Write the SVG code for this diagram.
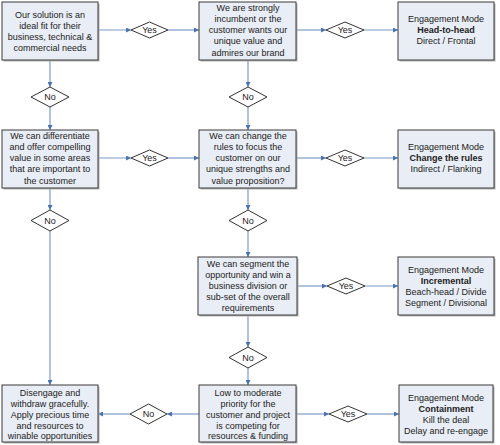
<svg xmlns="http://www.w3.org/2000/svg" width="500" height="445" viewBox="0 0 500 445">
<style>
  .box { fill: #e9edf5; stroke: #3a3a3a; stroke-width: 1; }
  .shadow { fill: #b4b4b4; }
  .dia { fill: #ffffff; stroke: #333333; stroke-width: 1; }
  .t { font-family: "Liberation Sans", Arial, sans-serif; font-size: 9px; fill: #222222; text-anchor: middle; }
  .b { font-weight: bold; }
  .c { stroke: #7b9aca; stroke-width: 1.2; fill: none; marker-end: url(#ah); }
</style>
<defs>
  <marker id="ah" viewBox="0 0 10 10" refX="10" refY="5" markerWidth="5" markerHeight="5" markerUnits="userSpaceOnUse" orient="auto">
    <path d="M0,0 L10,5 L0,10 z" fill="#4a72b0"/>
  </marker>
</defs>
<rect width="500" height="445" fill="#ffffff"/>

<g id="connectors">
  <line class="c" x1="98" y1="30" x2="131" y2="30"/>
  <line class="c" x1="168" y1="30" x2="199" y2="30"/>
  <line class="c" x1="297" y1="30" x2="326" y2="30"/>
  <line class="c" x1="364" y1="30" x2="398" y2="30"/>
  <line class="c" x1="50" y1="60" x2="50" y2="87"/>
  <line class="c" x1="50" y1="107" x2="50" y2="130"/>
  <line class="c" x1="248" y1="60" x2="248" y2="87"/>
  <line class="c" x1="248" y1="107" x2="248" y2="130"/>
  <line class="c" x1="98" y1="158" x2="131" y2="158"/>
  <line class="c" x1="168" y1="158" x2="199" y2="158"/>
  <line class="c" x1="297" y1="158" x2="326" y2="158"/>
  <line class="c" x1="364" y1="158" x2="398" y2="158"/>
  <line class="c" x1="50" y1="188" x2="50" y2="210"/>
  <line class="c" x1="50" y1="231" x2="50" y2="385"/>
  <line class="c" x1="248" y1="188" x2="248" y2="210"/>
  <line class="c" x1="248" y1="231" x2="248" y2="257"/>
  <line class="c" x1="298" y1="286" x2="327" y2="286"/>
  <line class="c" x1="365" y1="286" x2="398" y2="286"/>
  <line class="c" x1="248" y1="315" x2="248" y2="347"/>
  <line class="c" x1="248" y1="368" x2="248" y2="385"/>
  <line class="c" x1="199" y1="414" x2="167" y2="414"/>
  <line class="c" x1="130" y1="414" x2="98" y2="414"/>
  <line class="c" x1="297" y1="414" x2="329" y2="414"/>
  <line class="c" x1="367" y1="414" x2="399" y2="414"/>
</g>

<g id="n1">
  <rect class="shadow" x="3.5" y="3.5" width="96" height="58"/>
  <rect class="box" x="2" y="2" width="96" height="58"/>
  <text class="t" x="50" y="17.7">Our solution is an</text>
  <text class="t" x="50" y="28.7">ideal fit for their</text>
  <text class="t" x="50" y="39.7">business, technical &amp;</text>
  <text class="t" x="50" y="50.7">commercial needs</text>
</g>
<g id="n2">
  <rect class="shadow" x="200.5" y="3.5" width="97" height="58"/>
  <rect class="box" x="199" y="2" width="97" height="58"/>
  <text class="t" x="248" y="10.8">We are strongly</text>
  <text class="t" x="248" y="22">incumbent or the</text>
  <text class="t" x="248" y="33.2">customer wants our</text>
  <text class="t" x="248" y="44.4">unique value and</text>
  <text class="t" x="248" y="55.6">admires our brand</text>
</g>
<g id="n3">
  <rect class="shadow" x="399.5" y="3.5" width="96" height="58"/>
  <rect class="box" x="398" y="2" width="96" height="58"/>
  <text class="t" x="446" y="22.2">Engagement Mode</text>
  <text class="t b" x="446" y="33.2">Head-to-head</text>
  <text class="t" x="446" y="44.2">Direct / Frontal</text>
</g>
<g id="n4">
  <rect class="shadow" x="3.5" y="131.5" width="96" height="58"/>
  <rect class="box" x="2" y="130" width="96" height="58"/>
  <text class="t" x="50" y="138.8">We can differentiate</text>
  <text class="t" x="50" y="150">and offer compelling</text>
  <text class="t" x="50" y="161.2">value in some areas</text>
  <text class="t" x="50" y="172.4">that are important to</text>
  <text class="t" x="50" y="183.6">the customer</text>
</g>
<g id="n5">
  <rect class="shadow" x="200.5" y="131.5" width="97" height="58"/>
  <rect class="box" x="199" y="130" width="97" height="58"/>
  <text class="t" x="248" y="138.8">We can change the</text>
  <text class="t" x="248" y="150">rules to focus the</text>
  <text class="t" x="248" y="161.2">customer on our</text>
  <text class="t" x="248" y="172.4">unique strengths and</text>
  <text class="t" x="248" y="183.6">value proposition?</text>
</g>
<g id="n6">
  <rect class="shadow" x="399.5" y="131.5" width="96" height="58"/>
  <rect class="box" x="398" y="130" width="96" height="58"/>
  <text class="t" x="446" y="150.2">Engagement Mode</text>
  <text class="t b" x="446" y="161.2">Change the rules</text>
  <text class="t" x="446" y="172.2">Indirect / Flanking</text>
</g>
<g id="n7">
  <rect class="shadow" x="199.5" y="258.5" width="99" height="58"/>
  <rect class="box" x="198" y="257" width="99" height="58"/>
  <text class="t" x="248" y="267.2">We can segment the</text>
  <text class="t" x="248" y="278.2">opportunity and win a</text>
  <text class="t" x="248" y="289.2">business division or</text>
  <text class="t" x="248" y="300.2">sub-set of the overall</text>
  <text class="t" x="248" y="311.2">requirements</text>
</g>
<g id="n8">
  <rect class="shadow" x="399.5" y="258.5" width="96" height="58"/>
  <rect class="box" x="398" y="257" width="96" height="58"/>
  <text class="t" x="446" y="273.2">Engagement Mode</text>
  <text class="t b" x="446" y="284.2">Incremental</text>
  <text class="t" x="446" y="295.2">Beach-head / Divide</text>
  <text class="t" x="446" y="306.2">Segment / Divisional</text>
</g>
<g id="n9">
  <rect class="shadow" x="3.5" y="386.5" width="96" height="57"/>
  <rect class="box" x="2" y="385" width="96" height="57"/>
  <text class="t" x="50" y="396.2">Disengage and</text>
  <text class="t" x="50" y="407">withdraw gracefully.</text>
  <text class="t" x="50" y="417.8">Apply precious time</text>
  <text class="t" x="50" y="428.6">and resources to</text>
  <text class="t" x="50" y="439.4">winable opportunities</text>
</g>
<g id="n10">
  <rect class="shadow" x="200.5" y="386.5" width="97" height="57"/>
  <rect class="box" x="199" y="385" width="97" height="57"/>
  <text class="t" x="248" y="396.2">Low to moderate</text>
  <text class="t" x="248" y="407">priority for the</text>
  <text class="t" x="248" y="417.8">customer and project</text>
  <text class="t" x="248" y="428.6">is competing for</text>
  <text class="t" x="248" y="439.4">resources &amp; funding</text>
</g>
<g id="n11">
  <rect class="shadow" x="400.5" y="386.5" width="94" height="57"/>
  <rect class="box" x="399" y="385" width="94" height="57"/>
  <text class="t" x="446" y="401.2">Engagement Mode</text>
  <text class="t b" x="446" y="412.2">Containment</text>
  <text class="t" x="446" y="423.2">Kill the deal</text>
  <text class="t" x="446" y="434.2">Delay and re-engage</text>
</g>

<g id="d-yes1">
  <polygon class="dia" points="131,30 149.5,22 168,30 149.5,38"/>
  <text class="t" x="149.5" y="33.2">Yes</text>
</g>
<g id="d-yes2">
  <polygon class="dia" points="326,30 345,22 364,30 345,38"/>
  <text class="t" x="345" y="33.2">Yes</text>
</g>
<g id="d-no1">
  <polygon class="dia" points="31,97 50,87 69,97 50,107"/>
  <text class="t" x="50" y="100.2">No</text>
</g>
<g id="d-no2">
  <polygon class="dia" points="229,97 248,87 267,97 248,107"/>
  <text class="t" x="248" y="100.2">No</text>
</g>
<g id="d-yes3">
  <polygon class="dia" points="131,158 149.5,150 168,158 149.5,166"/>
  <text class="t" x="149.5" y="161.2">Yes</text>
</g>
<g id="d-yes4">
  <polygon class="dia" points="326,158 345,150 364,158 345,166"/>
  <text class="t" x="345" y="161.2">Yes</text>
</g>
<g id="d-no3">
  <polygon class="dia" points="31,220.5 50,210 69,220.5 50,231"/>
  <text class="t" x="50" y="223.7">No</text>
</g>
<g id="d-no4">
  <polygon class="dia" points="229,220.5 248,210 267,220.5 248,231"/>
  <text class="t" x="248" y="223.7">No</text>
</g>
<g id="d-yes5">
  <polygon class="dia" points="327,286 346,278 365,286 346,294"/>
  <text class="t" x="346" y="289.2">Yes</text>
</g>
<g id="d-no5">
  <polygon class="dia" points="229,357.5 248,347 267,357.5 248,368"/>
  <text class="t" x="248" y="360.7">No</text>
</g>
<g id="d-no6">
  <polygon class="dia" points="130,414 148.5,404 167,414 148.5,424"/>
  <text class="t" x="148.5" y="417.2">No</text>
</g>
<g id="d-yes6">
  <polygon class="dia" points="329,414 348,406 367,414 348,422"/>
  <text class="t" x="348" y="417.2">Yes</text>
</g>
</svg>
